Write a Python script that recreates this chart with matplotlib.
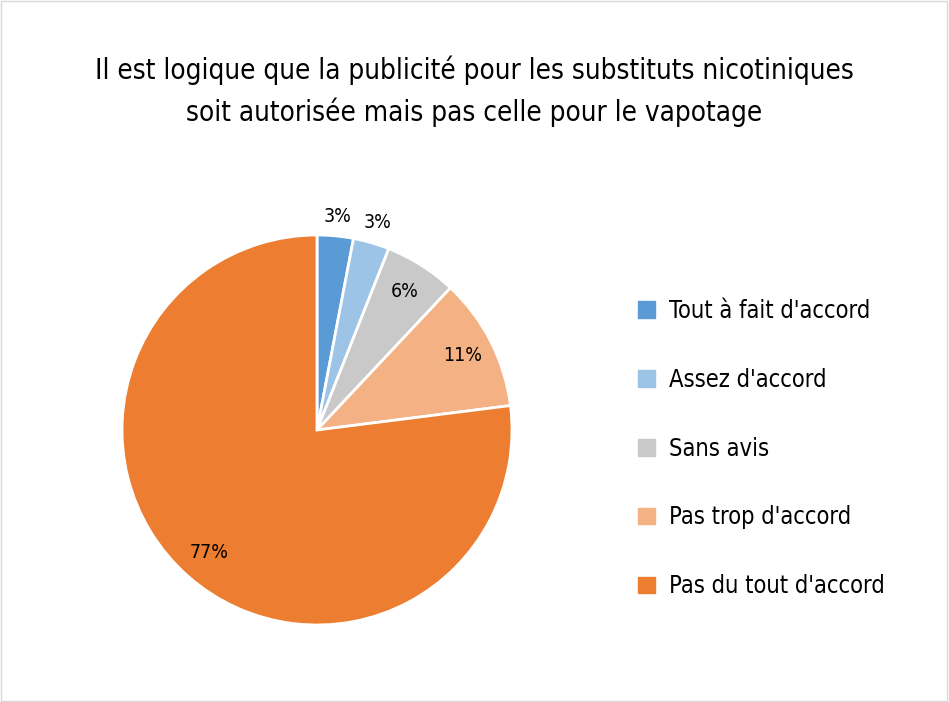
import matplotlib.pyplot as plt
import matplotlib.patches as mpatches
import numpy as np

plt.rcParams['font.family'] = ['Liberation Sans Narrow', 'DejaVu Sans']
plt.rcParams['font.stretch'] = 'condensed'

categories = ["Tout à fait d'accord", "Assez d'accord", "Sans avis",
              "Pas trop d'accord", "Pas du tout d'accord"]
values = [3, 3, 6, 11, 77]
colors = ['#5b9bd5', '#9dc3e6', '#c9c9c9', '#f4b183', '#ed7d31']
label_r = [1.1, 1.11, 0.84, 0.84, 0.84]

fig = plt.figure(figsize=(9.49, 7.02), dpi=100)
fig.patches.append(mpatches.Rectangle((0.001, 0.001), 0.997, 0.997, transform=fig.transFigure,
                                      fill=False, edgecolor='#d9d9d9', linewidth=1))

ax = fig.add_axes([(317 - 195) / 949, (702 - 430 - 195) / 702, 390 / 949, 390 / 702])
wedges, _ = ax.pie(values, colors=colors, startangle=90, counterclock=False,
                   wedgeprops=dict(edgecolor='white', linewidth=2))
ax.set_xlim(-1, 1)
ax.set_ylim(-1, 1)
ax.set_aspect('equal')

total = sum(values)
cum = 0
for v, r in zip(values, label_r):
    ang = np.deg2rad(90 - (cum + v / 2) / total * 360)
    cum += v
    ax.text(r * np.cos(ang), r * np.sin(ang), f"{v}%", ha='center', va='center',
            fontsize=14, color='black')

fig.text(0.5, 0.87, "Il est logique que la publicité pour les substituts nicotiniques\n"
         "soit autorisée mais pas celle pour le vapotage",
         ha='center', va='center', fontsize=20, linespacing=1.55)

handles = [mpatches.Patch(color=c, label=l) for c, l in zip(colors, categories)]
fig.legend(handles=handles, loc='upper left', bbox_to_anchor=(0.66, (702 - 287) / 702),
           frameon=False, fontsize=17, labelspacing=1.9, handlelength=0.7,
           handleheight=0.7, handletextpad=0.6, borderpad=0)

fig.savefig('out.png', dpi=100)
